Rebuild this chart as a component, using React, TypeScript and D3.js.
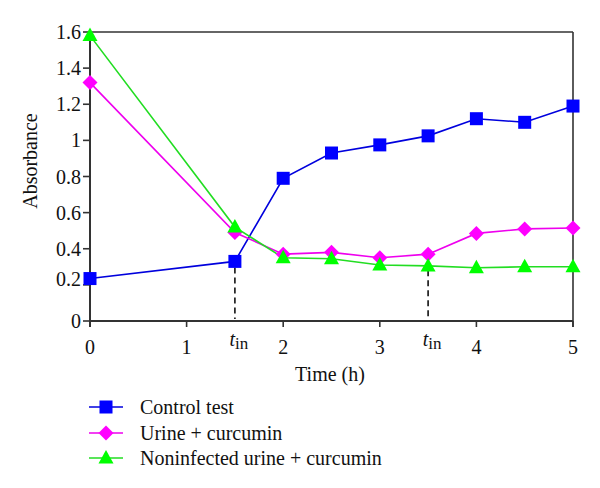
import React from "react";
import * as d3 from "d3";

const times = [0, 1.5, 2, 2.5, 3, 3.5, 4, 4.5, 5];
const controlTest = [0.235, 0.33, 0.79, 0.93, 0.975, 1.025, 1.12, 1.1, 1.19];
const urineCurcumin = [1.32, 0.49, 0.37, 0.38, 0.35, 0.37, 0.485, 0.51, 0.515];
const noninfected = [1.58, 0.52, 0.35, 0.345, 0.31, 0.305, 0.295, 0.3, 0.3];
const xTicks = [0, 1, 2, 3, 4, 5];
const yTicks = [0, 0.2, 0.4, 0.6, 0.8, 1, 1.2, 1.4, 1.6];
const yTickLabels = ["0", "0.2", "0.4", "0.6", "0.8", "1", "1.2", "1.4", "1.6"];
const tinTimes = [1.5, 3.5];
const seriesNames = ["Control test", "Urine + curcumin", "Noninfected urine + curcumin"];

const W = 600;
const H = 488;
const FONT = "'Liberation Serif', 'DejaVu Serif', serif";

const series = [
  { name: seriesNames[0], values: controlTest, line: "#0000dd", fill: "#0000ff", shape: "square" },
  { name: seriesNames[1], values: urineCurcumin, line: "#ee00ee", fill: "#ff00ff", shape: "diamond" },
  { name: seriesNames[2], values: noninfected, line: "#22dd22", fill: "#00ff00", shape: "triangle" },
];

function Marker({ shape, x, y, fill }: { shape: string; x: number; y: number; fill: string }) {
  if (shape === "square") {
    return <rect x={x - 6.5} y={y - 6.5} width={13} height={13} fill={fill} />;
  }
  if (shape === "diamond") {
    return <path d={`M${x},${y - 7.5}L${x + 7.5},${y}L${x},${y + 7.5}L${x - 7.5},${y}Z`} fill={fill} />;
  }
  return <path d={`M${x},${y - 8}L${x + 7.5},${y + 5.5}L${x - 7.5},${y + 5.5}Z`} fill={fill} />;
}

export default function App() {
  const x = d3.scaleLinear().domain([0, 5]).range([90, 573]);
  const y = d3.scaleLinear().domain([0, 1.6]).range([321, 32]);
  const axisColor = "#333";

  const lineGen = d3
    .line<number>()
    .x((_, i) => x(times[i]))
    .y((d) => y(d));

  const legendY = [407, 433, 458];

  return (
    <svg width={W} height={H} style={{ position: "absolute", left: 0, top: 0, background: "#fff" }}>
      <rect width={W} height={H} fill="#fff" />
      {/* frame */}
      <line x1={x(0)} x2={x(5)} y1={y(1.6)} y2={y(1.6)} stroke={axisColor} strokeWidth={1.6} />
      <line x1={x(5)} x2={x(5)} y1={y(1.6)} y2={y(0) + 6} stroke={axisColor} strokeWidth={1.6} />
      <line x1={x(0)} x2={x(5)} y1={y(0)} y2={y(0)} stroke={axisColor} strokeWidth={2} />
      <line x1={x(0)} x2={x(0)} y1={y(1.6)} y2={y(0) + 6} stroke={axisColor} strokeWidth={2} />
      {/* y ticks */}
      {yTicks.map((t, i) => (
        <g key={"y" + i}>
          <line x1={x(0) - 7} x2={x(0)} y1={y(t)} y2={y(t)} stroke={axisColor} strokeWidth={1.6} />
          <text
            x={81}
            y={y(t) + (t === 0.2 ? -6 : 0)}
            dy="0.35em"
            textAnchor="end"
            fontFamily={FONT}
            fontSize={20}
            fill="#111"
          >
            {yTickLabels[i]}
          </text>
        </g>
      ))}
      {/* x ticks */}
      {xTicks.map((t) => (
        <g key={"x" + t}>
          <line x1={x(t)} x2={x(t)} y1={y(0)} y2={y(0) + 6} stroke={axisColor} strokeWidth={1.6} />
          <text x={x(t)} y={354} textAnchor="middle" fontFamily={FONT} fontSize={20} fill="#111">
            {t}
          </text>
        </g>
      ))}
      {/* t_in markers */}
      {tinTimes.map((t, k) => {
        const idx = times.indexOf(t);
        const top = k === 0 ? y(controlTest[idx]) + 6 : y(urineCurcumin[idx]) + 6;
        return (
          <g key={"tin" + k}>
            <line
              x1={x(t)}
              x2={x(t)}
              y1={top}
              y2={y(0) - 2}
              stroke="#111"
              strokeWidth={1.6}
              strokeDasharray="6,4"
            />
            <text x={x(t) + 4} y={346} textAnchor="middle" fontFamily={FONT} fontSize={20} fill="#111">
              <tspan fontStyle="italic">t</tspan>
              <tspan fontSize={17} dy={3}>in</tspan>
            </text>
          </g>
        );
      })}
      {/* series lines */}
      {series.map((s) => (
        <path key={s.name + "l"} d={lineGen(s.values) || ""} fill="none" stroke={s.line} strokeWidth={1.6} />
      ))}
      {series.map((s) => (
        <g key={s.name + "m"}>
          {s.values.map((v, i) => (
            <Marker key={i} shape={s.shape} x={x(times[i])} y={y(v)} fill={s.fill} />
          ))}
        </g>
      ))}
      {/* axis titles */}
      <text x={330} y={381} textAnchor="middle" fontFamily={FONT} fontSize={20} fill="#111">
        Time (h)
      </text>
      <text
        transform={`translate(37,${161}) rotate(-90)`}
        textAnchor="middle"
        fontFamily={FONT}
        fontSize={20}
        fill="#111"
      >
        Absorbance
      </text>
      {/* legend */}
      {series.map((s, i) => (
        <g key={s.name + "lg"}>
          <line x1={89} x2={123} y1={legendY[i]} y2={legendY[i]} stroke={s.line} strokeWidth={1.6} />
          <Marker shape={s.shape} x={106} y={legendY[i]} fill={s.fill} />
          <text x={140} y={legendY[i]} dy="0.33em" fontFamily={FONT} fontSize={20} fill="#111">
            {s.name}
          </text>
        </g>
      ))}
    </svg>
  );
}
